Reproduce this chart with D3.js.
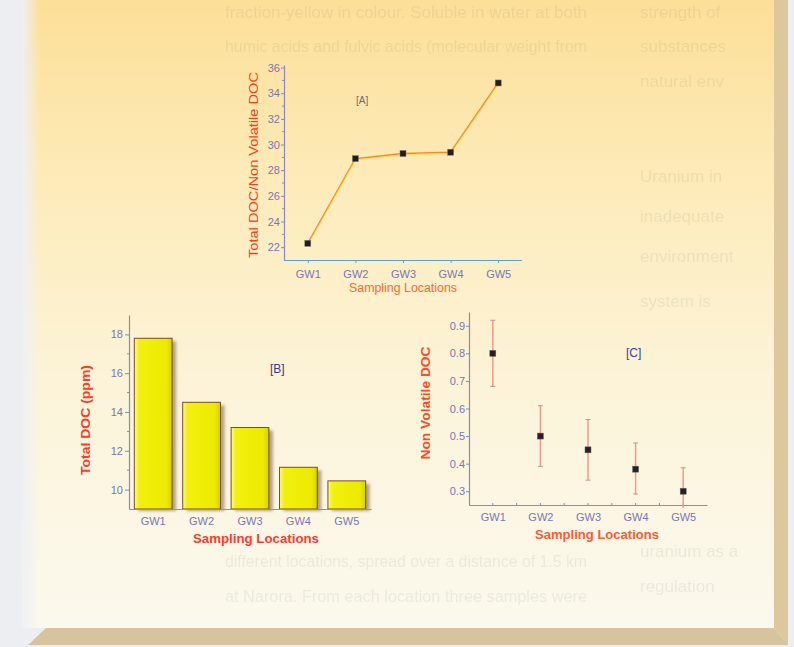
<!DOCTYPE html>
<html>
<head>
<meta charset="utf-8">
<title>DOC charts</title>
<script src="https://d3js.org/d3.v7.min.js"></script>
<style>
	html, body {margin: 0; padding: 0; overflow: hidden; background: #eceef1}
	svg {display: block}
	.tick text {font-family: "Liberation Sans", Arial, sans-serif; font-size: 11px; fill: #7a76b2}
	.axisTitle {font-family: "Liberation Sans", Arial, sans-serif}
	.bgText {font-family: "Liberation Sans Narrow", "Liberation Sans", sans-serif; font-size: 17px; fill: #6a6a6a; opacity: 0.1}
</style>
</head>
<body>
<script>
	var width = 794, height = 647;

	// data
	var cats = ["GW1", "GW2", "GW3", "GW4", "GW5"];
	var ratioA = [22.3, 28.9, 29.3, 29.4, 34.8];
	var totalDocB = [17.8, 14.5, 13.2, 11.15, 10.45];
	var nvDocC = [0.80, 0.50, 0.45, 0.38, 0.30];
	var nvLowC = [0.68, 0.39, 0.34, 0.29, 0.24];
	var nvHighC = [0.92, 0.61, 0.56, 0.475, 0.385];

	var ticksA = [22, 24, 26, 28, 30, 32, 34, 36];
	var ticksB = [10, 12, 14, 16, 18];
	var ticksC = [0.3, 0.4, 0.5, 0.6, 0.7, 0.8, 0.9];

	// page text showing faintly through the overlay, where it clears the charts
	var bgLines = [
		{x: 225, y: 18, len: 362, t: "fraction-yellow in colour. Soluble in water at both"},
		{x: 225, y: 52, len: 362, t: "humic acids and fulvic acids (molecular weight from"},
		{x: 225, y: 567, len: 362, t: "different locations, spread over a distance of 1.5 km"},
		{x: 225, y: 602, len: 362, t: "at Narora. From each location three samples were"},
		{x: 640, y: 18, t: "strength of"},
		{x: 640, y: 52, t: "substances"},
		{x: 640, y: 87, t: "natural env"},
		{x: 640, y: 182, t: "Uranium in"},
		{x: 640, y: 222, t: "inadequate"},
		{x: 640, y: 262, t: "environment"},
		{x: 640, y: 307, t: "system is"},
		{x: 640, y: 557, t: "uranium as a"},
		{x: 640, y: 592, t: "regulation"}
	];

	var svg = d3.select("body").append("svg")
		.attr("width", width)
		.attr("height", height);

	var defs = svg.append("defs");

	var panelGrad = defs.append("linearGradient")
		.attr("id", "panelGrad")
		.attr("x1", "0%").attr("y1", "0%")
		.attr("x2", "0%").attr("y2", "100%");
	panelGrad.append("stop").attr("offset", "0%").attr("stop-color", "#fcdf98");
	panelGrad.append("stop").attr("offset", "30%").attr("stop-color", "#fdebba");
	panelGrad.append("stop").attr("offset", "60%").attr("stop-color", "#fcf3d8");
	panelGrad.append("stop").attr("offset", "100%").attr("stop-color", "#fbf9ee");

	var edgeGrad = defs.append("linearGradient")
		.attr("id", "edgeGrad")
		.attr("x1", "0%").attr("y1", "0%")
		.attr("x2", "100%").attr("y2", "0%");
	edgeGrad.append("stop").attr("offset", "0%").attr("stop-color", "#eef0f3").attr("stop-opacity", 1);
	edgeGrad.append("stop").attr("offset", "100%").attr("stop-color", "#eef0f3").attr("stop-opacity", 0);

	var barGrad = defs.append("linearGradient")
		.attr("id", "barGrad")
		.attr("x1", "0%").attr("y1", "0%")
		.attr("x2", "100%").attr("y2", "0%");
	barGrad.append("stop").attr("offset", "0%").attr("stop-color", "#fbfb90");
	barGrad.append("stop").attr("offset", "12%").attr("stop-color", "#f2f010");
	barGrad.append("stop").attr("offset", "85%").attr("stop-color", "#ecea00");
	barGrad.append("stop").attr("offset", "100%").attr("stop-color", "#d6d200");

	defs.append("filter").attr("id", "blur")
		.append("feGaussianBlur").attr("stdDeviation", 1.6);

	// background page and the bevelled panel
	svg.append("rect")
		.attr("width", width).attr("height", height)
		.attr("fill", "#eceef1");

	svg.append("rect")
		.attr("x", 22).attr("y", 0)
		.attr("width", 752).attr("height", 628)
		.attr("fill", "url(#panelGrad)");
	svg.append("rect")
		.attr("x", 22).attr("y", 0)
		.attr("width", 18).attr("height", 628)
		.attr("fill", "url(#edgeGrad)");

	svg.append("g")
		.selectAll("text")
		.data(bgLines)
		.enter().append("text")
		.attr("class", "bgText")
		.attr("x", function(d){ return d.x; })
		.attr("y", function(d){ return d.y; })
		.attr("textLength", function(d){ return d.len ? d.len : null; })
		.attr("lengthAdjust", "spacingAndGlyphs")
		.text(function(d){ return d.t; });

	svg.append("polygon")
		.attr("points", "774,0 788,0 788,645 774,628")
		.attr("fill", "#dcc89c");
	svg.append("polygon")
		.attr("points", "46,628 774,628 788,645 28,645")
		.attr("fill", "#d6c49e");

	function styleAxis(g, lineColor){
		g.select(".domain").attr("stroke", lineColor).attr("stroke-width", 1.2);
		g.selectAll(".tick line").attr("stroke", lineColor);
	}

	function minorTicks(g, scale, values, orient, size){
		g.selectAll(null)
			.data(values)
			.enter().append("line")
			.attr("stroke", "#8c88b8")
			.attr("x1", function(d){ return orient == "y" ? 0 : scale(d); })
			.attr("x2", function(d){ return orient == "y" ? -size : scale(d); })
			.attr("y1", function(d){ return orient == "y" ? scale(d) : 0; })
			.attr("y2", function(d){ return orient == "y" ? scale(d) : size; });
	}

	function axisTitle(x, y, text, len, color, rotate, bold){
		svg.append("text")
			.attr("class", "axisTitle")
			.attr("transform", "translate(" + x + "," + y + ")" + (rotate ? "rotate(-90)" : ""))
			.attr("text-anchor", "middle")
			.attr("dy", "0.35em")
			.attr("font-size", 12.5)
			.attr("font-weight", bold ? "bold" : "normal")
			.attr("fill", color)
			.attr("textLength", len)
			.attr("lengthAdjust", "spacingAndGlyphs")
			.text(text);
	}

	// ---------- chart A ----------
	var xA = d3.scalePoint().domain(cats).range([284, 522]).padding(0.5);
	var yA = d3.scaleLinear().domain([21, 36.2]).range([260, 65]);

	var gyA = svg.append("g")
		.attr("transform", "translate(284,0)")
		.call(d3.axisLeft(yA).tickValues(ticksA).tickSize(3).tickPadding(1).tickSizeOuter(0));
	styleAxis(gyA, "#8c88b8");
	minorTicks(gyA, yA, [23, 25, 27, 29, 31, 33, 35], "y", 2);

	var gxA = svg.append("g")
		.attr("transform", "translate(0,260)")
		.call(d3.axisBottom(xA).tickSize(3).tickPadding(7).tickSizeOuter(0));
	styleAxis(gxA, "#5f9fd6");
	gxA.select(".domain").attr("d", "M284,0.5H522");

	var lineA = d3.line()
		.x(function(d, i){ return xA(cats[i]); })
		.y(function(d){ return yA(d); });

	svg.append("path")
		.datum(ratioA)
		.attr("d", lineA)
		.attr("fill", "none")
		.attr("stroke", "#f28a2c")
		.attr("stroke-width", 1.6);
	svg.append("path")
		.datum(ratioA)
		.attr("d", lineA)
		.attr("transform", "translate(0,1.2)")
		.attr("fill", "none")
		.attr("stroke", "#f6d840")
		.attr("stroke-width", 0.8);

	svg.selectAll(".ptA")
		.data(ratioA)
		.enter().append("rect")
		.attr("class", "ptA")
		.attr("x", function(d, i){ return xA(cats[i]) - 3; })
		.attr("y", function(d){ return yA(d) - 3; })
		.attr("width", 6).attr("height", 6)
		.attr("fill", "#1e1e1e")
		.attr("stroke", "#777")
		.attr("stroke-width", 0.5);

	svg.append("text")
		.attr("x", 356).attr("y", 104)
		.attr("font-family", "Liberation Sans, Arial, sans-serif")
		.attr("font-size", 10)
		.attr("fill", "#6a6a7a")
		.text("[A]");

	axisTitle(254, 165, "Total DOC/Non Volatile DOC", 186, "#ff3c18", true, false);
	axisTitle(403, 288, "Sampling Locations", 108, "#ff6a30", false, false);

	// ---------- chart B ----------
	var xB = d3.scaleBand().domain(cats).range([129, 371]).paddingInner(0.22).paddingOuter(0.11);
	var yB = d3.scaleLinear().domain([9, 19]).range([509, 315]);

	svg.append("g")
		.selectAll("rect")
		.data(totalDocB)
		.enter().append("rect")
		.attr("x", function(d, i){ return xB(cats[i]) + 4; })
		.attr("y", function(d){ return yB(d) + 3; })
		.attr("width", xB.bandwidth())
		.attr("height", function(d){ return yB(9) - yB(d) - 1; })
		.attr("fill", "#8a6a40")
		.attr("opacity", 0.6)
		.attr("filter", "url(#blur)");

	svg.append("g")
		.selectAll("rect")
		.data(totalDocB)
		.enter().append("rect")
		.attr("x", function(d, i){ return xB(cats[i]); })
		.attr("y", function(d){ return yB(d); })
		.attr("width", xB.bandwidth())
		.attr("height", function(d){ return yB(9) - yB(d); })
		.attr("fill", "url(#barGrad)")
		.attr("stroke", "#7a4a2a")
		.attr("stroke-width", 1);

	var gyB = svg.append("g")
		.attr("transform", "translate(129,0)")
		.call(d3.axisLeft(yB).tickValues(ticksB).tickSize(4).tickPadding(2).tickSizeOuter(0));
	styleAxis(gyB, "#8c88b8");
	minorTicks(gyB, yB, [11, 13, 15, 17], "y", 2);

	var gxB = svg.append("g")
		.attr("transform", "translate(0,509)")
		.call(d3.axisBottom(xB).tickSize(0).tickPadding(8).tickSizeOuter(0));
	styleAxis(gxB, "#5f9fd6");

	svg.append("text")
		.attr("x", 270).attr("y", 373)
		.attr("font-family", "Liberation Sans, Arial, sans-serif")
		.attr("font-size", 12)
		.attr("fill", "#3a3a8c")
		.text("[B]");

	axisTitle(86, 420, "Total DOC (ppm)", 110, "#ff3a2a", true, true);
	axisTitle(256, 539, "Sampling Locations", 126, "#ff3a30", false, true);

	// ---------- chart C ----------
	var xC = d3.scalePoint().domain(cats).range([469, 707]).padding(0.5);
	var yC = d3.scaleLinear().domain([0.25, 0.95]).range([505, 312]);

	var gyC = svg.append("g")
		.attr("transform", "translate(469,0)")
		.call(d3.axisLeft(yC).tickValues(ticksC).tickSize(3).tickPadding(1).tickSizeOuter(0)
			.tickFormat(d3.format(".1f")));
	styleAxis(gyC, "#8c88b8");

	var gxC = svg.append("g")
		.attr("transform", "translate(0,505)")
		.call(d3.axisBottom(xC).tickSize(0).tickPadding(8).tickSizeOuter(0));
	styleAxis(gxC, "#5f9fd6");
	var halfStep = xC.step() / 2;
	minorTicks(gxC, function(d){ return d; },
		cats.map(function(c){ return xC(c); }).concat(cats.slice(0, 4).map(function(c){ return xC(c) + halfStep; })),
		"x", -2);

	var errC = svg.append("g");
	errC.selectAll(".err")
		.data(nvDocC)
		.enter().append("line")
		.attr("x1", function(d, i){ return xC(cats[i]); })
		.attr("x2", function(d, i){ return xC(cats[i]); })
		.attr("y1", function(d, i){ return yC(nvLowC[i]); })
		.attr("y2", function(d, i){ return yC(nvHighC[i]); })
		.attr("stroke", "#f29a8a")
		.attr("stroke-width", 1.5);
	errC.selectAll(".capHi")
		.data(nvHighC)
		.enter().append("line")
		.attr("x1", function(d, i){ return xC(cats[i]) - 2.5; })
		.attr("x2", function(d, i){ return xC(cats[i]) + 2.5; })
		.attr("y1", function(d){ return yC(d); })
		.attr("y2", function(d){ return yC(d); })
		.attr("stroke", "#b89a9a");
	errC.selectAll(".capLo")
		.data(nvLowC.slice(0, 4))
		.enter().append("line")
		.attr("x1", function(d, i){ return xC(cats[i]) - 2.5; })
		.attr("x2", function(d, i){ return xC(cats[i]) + 2.5; })
		.attr("y1", function(d){ return yC(d); })
		.attr("y2", function(d){ return yC(d); })
		.attr("stroke", "#b89a9a");

	svg.selectAll(".ptC")
		.data(nvDocC)
		.enter().append("rect")
		.attr("class", "ptC")
		.attr("x", function(d, i){ return xC(cats[i]) - 3; })
		.attr("y", function(d){ return yC(d) - 3; })
		.attr("width", 6).attr("height", 6)
		.attr("fill", "#222")
		.attr("stroke", "#666")
		.attr("stroke-width", 0.5);

	svg.append("text")
		.attr("x", 626).attr("y", 357)
		.attr("font-family", "Liberation Sans, Arial, sans-serif")
		.attr("font-size", 12)
		.attr("fill", "#3044a0")
		.text("[C]");

	axisTitle(426, 403, "Non Volatile DOC", 113, "#ff4a2a", true, true);
	axisTitle(597, 535, "Sampling Locations", 124, "#ff5a30", false, true);
</script>
</body>
</html>
